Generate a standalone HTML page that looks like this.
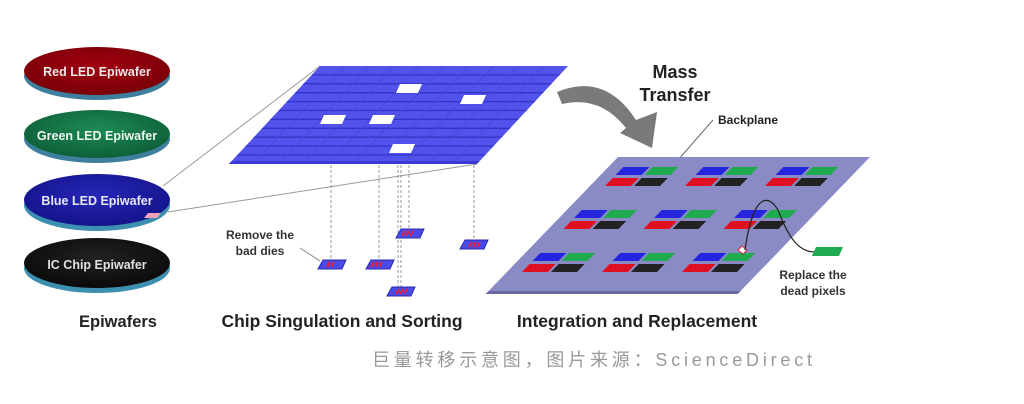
<!DOCTYPE html>
<html><head><meta charset="utf-8"><style>
html,body{margin:0;padding:0;background:#fff;width:1024px;height:404px;overflow:hidden}
svg{display:block}
text{font-family:"Liberation Sans",Arial,sans-serif;font-weight:bold}
</style></head><body>
<svg width="1024" height="404" viewBox="0 0 1024 404" xmlns="http://www.w3.org/2000/svg">
<defs>
<radialGradient id="gr" cx="50%" cy="40%" r="60%"><stop offset="0" stop-color="#a00010"/><stop offset="1" stop-color="#7a0008"/></radialGradient>
<radialGradient id="gg" cx="50%" cy="40%" r="60%"><stop offset="0" stop-color="#1d8a55"/><stop offset="1" stop-color="#0e5f38"/></radialGradient>
<radialGradient id="gb" cx="50%" cy="40%" r="60%"><stop offset="0" stop-color="#2626b8"/><stop offset="1" stop-color="#14148a"/></radialGradient>
<radialGradient id="gk" cx="50%" cy="40%" r="60%"><stop offset="0" stop-color="#222"/><stop offset="1" stop-color="#0a0a0a"/></radialGradient>
</defs>

<g>
<ellipse cx="97" cy="76" rx="73" ry="24" fill="#3d7f9c"/>
<ellipse cx="97" cy="71" rx="73" ry="24" fill="url(#gr)"/>
<text x="97" y="76" fill="#f0e8e8" font-size="12.5" text-anchor="middle">Red LED Epiwafer</text>

<ellipse cx="97" cy="139" rx="73" ry="24" fill="#3d7f9c"/>
<ellipse cx="97" cy="134" rx="73" ry="24" fill="url(#gg)"/>
<text x="97" y="140" fill="#eef4ee" font-size="12.5" text-anchor="middle">Green LED Epiwafer</text>

<ellipse cx="97" cy="205" rx="73" ry="26" fill="#3d8fb0"/>
<ellipse cx="97" cy="200" rx="73" ry="26" fill="url(#gb)"/>
<text x="97" y="205" fill="#e8e8f4" font-size="12.5" text-anchor="middle">Blue LED Epiwafer</text>
<polygon points="148,213 161,213 157,218 144,218" fill="#f0a0b8"/>

<ellipse cx="97" cy="268" rx="73" ry="25" fill="#3d8fb0"/>
<ellipse cx="97" cy="263" rx="73" ry="25" fill="url(#gk)"/>
<text x="97" y="269" fill="#e0e0e0" font-size="12.5" text-anchor="middle">IC Chip Epiwafer</text>
</g>

<line x1="163" y1="186" x2="320" y2="66" stroke="#999" stroke-width="1"/>
<line x1="168" y1="212" x2="477" y2="164" stroke="#999" stroke-width="1"/>

<g transform="translate(320,66) skewX(-42.9)">
<rect x="0" y="0" width="248" height="98" fill="#5252ec"/>
<path d="M0,8.9 H248 M0,17.8 H248 M0,26.7 H248 M0,35.6 H248 M0,44.5 H248 M0,53.4 H248 M0,62.3 H248 M0,71.2 H248 M0,80.1 H248 M0,89 H248" stroke="#3434c4" stroke-width="1.3" fill="none"/>
<path d="M24.8,0 V98 M49.6,0 V98 M74.4,0 V98 M99.2,0 V98 M124,0 V98 M148.8,0 V98 M173.6,0 V98 M198.4,0 V98 M223.2,0 V98" stroke="#4646d8" stroke-width="1" fill="none"/>
<rect x="0" y="95" width="248" height="3" fill="#3a3ad0"/>
</g>
<g fill="#fff">
<polygon points="400,84 422,84 418,93 396,93"/>
<polygon points="464,95 486,95 482,104 460,104"/>
<polygon points="324,115 346,115 342,124 320,124"/>
<polygon points="373,115 395,115 391,124 369,124"/>
<polygon points="393,144 415,144 411,153 389,153"/>
</g>

<g stroke="#999" stroke-width="1" stroke-dasharray="3,2">
<line x1="331" y1="165" x2="331" y2="262"/>
<line x1="379" y1="165" x2="379" y2="262"/>
<line x1="398" y1="165" x2="398" y2="290"/>
<line x1="401" y1="165" x2="401" y2="290"/>
<line x1="409" y1="165" x2="409" y2="232"/>
<line x1="474" y1="165" x2="474" y2="242"/>
</g>
<g>
<g transform="translate(318,260)"><polygon points="5,0 28,0 24,9 0,9" fill="#4a4ae8" stroke="#2828b0"/><path d="M12,2 l-3,5 M16,2 l-3,5" stroke="#e02040" stroke-width="2"/></g>
<g transform="translate(366,260)"><polygon points="5,0 28,0 24,9 0,9" fill="#4a4ae8" stroke="#2828b0"/><path d="M8,2 l-3,5 M12,2 l-3,5 M16,2 l-3,5" stroke="#e02040" stroke-width="2"/></g>
<g transform="translate(396,229)"><polygon points="5,0 28,0 24,9 0,9" fill="#4a4ae8" stroke="#2828b0"/><path d="M9,2 l-3,5 M13,2 l-3,5 M17,2 l-3,5" stroke="#e02040" stroke-width="2"/></g>
<g transform="translate(460,240)"><polygon points="5,0 28,0 24,9 0,9" fill="#4a4ae8" stroke="#2828b0"/><path d="M12,2 l-3,5 M16,2 l-3,5 M20,2 l-3,5" stroke="#e02040" stroke-width="2"/></g>
<g transform="translate(387,287)"><polygon points="5,0 28,0 24,9 0,9" fill="#4a4ae8" stroke="#2828b0"/><path d="M12,2 l-3,5 M16,2 l-3,5 M20,2 l-3,5" stroke="#e02040" stroke-width="2"/></g>
</g>
<text x="260" y="239" font-size="12" fill="#333" text-anchor="middle">Remove the</text>
<text x="260" y="255" font-size="12" fill="#333" text-anchor="middle">bad dies</text>
<line x1="300" y1="248" x2="320" y2="261" stroke="#888"/>

<path d="M557,92 Q605,72 636,120 L657,112 L652,148 L620,133 L626,128 Q600,95 562,104 Z" fill="#7a7a7a"/>
<text x="675" y="78" font-size="18" fill="#222" text-anchor="middle">Mass</text>
<text x="675" y="101" font-size="18" fill="#222" text-anchor="middle">Transfer</text>

<text x="718" y="124" font-size="12" fill="#222">Backplane</text>
<line x1="713" y1="120" x2="678" y2="160" stroke="#666"/>
<g transform="translate(618,157) skewX(-44)">
<rect x="0" y="0" width="252" height="136" fill="#8a8ac4"/>
<rect x="0" y="134" width="252" height="3" fill="#6a6aa6"/>
<g id="grp">
<rect x="15" y="10" width="26" height="8" fill="#2525e0"/>
<rect x="44" y="10" width="26" height="8" fill="#1faa50"/>
<rect x="15" y="21" width="26" height="8" fill="#e01020"/>
<rect x="44" y="21" width="26" height="8" fill="#222"/>
</g>
<use href="#grp" x="80" y="0"/><use href="#grp" x="160" y="0"/>
<use href="#grp" x="0" y="43"/><use href="#grp" x="80" y="43"/><use href="#grp" x="160" y="43"/>
<use href="#grp" x="0" y="86"/><use href="#grp" x="80" y="86"/><use href="#grp" x="160" y="86"/>
</g>
<polygon points="738,250 742,246 747,250 743,254" fill="#fff" stroke="#e02040" stroke-width="1"/>
<path d="M745,250 C755,180 775,200 780,215 C790,240 800,252 815,252" stroke="#222" stroke-width="1.2" fill="none"/>
<polygon points="816,247 843,247 839,256 812,256" fill="#1faa50"/>
<text x="813" y="279" font-size="12" fill="#333" text-anchor="middle">Replace the</text>
<text x="813" y="295" font-size="12" fill="#333" text-anchor="middle">dead pixels</text>

<text x="118" y="327" font-size="16.5" fill="#222" text-anchor="middle">Epiwafers</text>
<text x="342" y="327" font-size="17.5" fill="#222" text-anchor="middle">Chip Singulation and Sorting</text>
<text x="637" y="327" font-size="17.5" fill="#222" text-anchor="middle">Integration and Replacement</text>

<text x="372" y="366" font-size="18" fill="#999" letter-spacing="3.8" style="font-weight:normal;font-family:'Liberation Sans','Noto Sans CJK SC',sans-serif">巨量转移示意图，图片来源：ScienceDirect</text>
</svg>
</body></html>
